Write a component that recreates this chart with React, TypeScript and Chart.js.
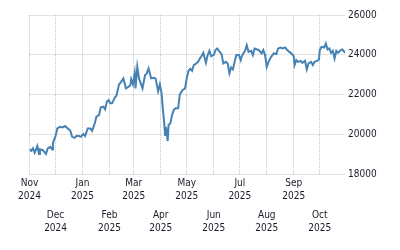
import React, { useEffect, useRef } from "react";
import { Chart, registerables } from "chart.js";

Chart.register(...registerables);

// Day offsets from 1 Nov 2024
const days = [
  0, 2, 4, 6, 8, 9, 11, 12, 15, 17, 19, 21, 24, 26, 27, 30, 32, 35, 38, 41, 44, 47, 49, 52, 54, 57, 59, 62, 64, 67, 70, 72, 75, 77, 80, 82, 85, 87, 89, 91, 93,
  95, 98, 100, 103, 105, 108, 111, 114, 116, 117, 119, 121, 122, 124, 126, 128, 130, 133, 135, 137, 140, 143, 145, 147, 148, 150, 152, 153, 155, 156, 157, 159, 160, 162, 164, 166, 168, 171, 173, 176, 179, 181, 183, 185,
  187, 189, 192, 194, 196, 198, 200, 203, 205, 207, 209, 212, 214, 216, 218, 221, 223, 226, 228, 230, 232, 234, 236, 238, 241, 243, 244, 246, 248, 250, 252, 255, 257, 259, 262, 264, 267, 269, 271, 273, 275,
  278, 281, 284, 286, 289, 291, 294, 296, 299, 302, 304, 305, 307, 309, 312, 314, 317, 319, 321, 324, 326, 328, 331, 333, 334, 336, 339, 341, 343, 345, 347, 349, 351, 353, 355, 358, 360, 363,
];

const values = [
  19260, 19190, 19310, 19090, 19310, 19430, 19030, 19260, 19230, 19140, 19030, 19310, 19390, 19260, 19590, 19930, 20310, 20390, 20360, 20430, 20310, 20190, 19890, 19840, 19930, 19930, 19890, 20030, 19930, 20310, 20310, 20190, 20560, 20900, 20980, 21370, 21400, 21270, 21650, 21730, 21570,
  21570, 21850, 21950, 22520, 22620, 22820, 22320, 22400, 22480, 22780, 22520, 23070, 22320, 23400, 22820, 22570, 22320, 22990, 23070, 23320, 22820, 22850, 22820, 22400, 22180, 22520, 22070, 21480, 20560, 19980, 20390, 19680, 20480, 20560, 20980, 21230, 21320, 21320, 22020, 22230, 22320, 22850, 23200, 23300,
  23200, 23490, 23570, 23650, 23820, 23940, 24100, 23600, 23990, 24200, 23940, 23990, 24240, 24320, 24200, 24040, 23570, 23650, 23570, 23070, 23370, 23270, 23650, 23990, 23990, 23740, 23900, 24070, 24200, 24490, 24150, 24200, 23990, 24320, 24270, 24240, 24070, 24240, 23990, 23400, 23650,
  23900, 24070, 24040, 24320, 24370, 24320, 24370, 24270, 24150, 24040, 23940, 23490, 23740, 23650, 23700, 23600, 23700, 23270, 23570, 23650, 23490, 23650, 23700, 23770, 24240, 24400, 24370, 24570, 24270, 24320, 24100, 24200, 23820, 24200, 24100, 24240, 24270, 24100,
];

// Month starts (day offsets) and their labels
const monthDays = [0, 30, 61, 92, 120, 151, 181, 212, 242, 273, 304, 334];
const monthNames = ["Nov", "Dec", "Jan", "Feb", "Mar", "Apr", "May", "Jun", "Jul", "Aug", "Sep", "Oct"];
const monthYears = ["2024", "2024", "2025", "2025", "2025", "2025", "2025", "2025", "2025", "2025", "2025", "2025"];

const yTickValues = [18000, 20000, 22000, 24000, 26000];

const FONT = { family: '"DejaVu Sans Condensed", "Liberation Sans", sans-serif', size: 10, lineHeight: 1.3 };
const TEXT = "#1a1a2a";
const GRID = "#c4c4c4";

export default function App() {
  const ref = useRef<HTMLCanvasElement | null>(null);

  useEffect(() => {
    document.body.style.margin = "0";
    const canvas = ref.current;
    if (!canvas) return;
    const pts = days.map((d, i) => ({ x: d, y: values[i] }));
    const setMonthTicks = (scale: any) => {
      scale.ticks = monthDays.map((v) => ({ value: v }));
    };
    const chart = new Chart(canvas, {
      type: "line",
      data: {
        datasets: [
          {
            data: pts,
            borderColor: "#4682b4",
            borderWidth: 2,
            pointRadius: 0,
            tension: 0,
            fill: false,
          },
        ],
      },
      options: {
        animation: false,
        responsive: false,
        devicePixelRatio: 1,
        layout: { padding: { top: 15, left: 29.5, right: 0, bottom: 0 } },
        plugins: { legend: { display: false }, tooltip: { enabled: false } },
        scales: {
          x: {
            type: "linear",
            position: "bottom",
            weight: 1,
            min: 0,
            max: days[days.length - 1],
            afterBuildTicks: setMonthTicks,
            afterFit: (s: any) => {
              s.height = 31;
            },
            border: { display: false, dash: [1, 1] },
            grid: { color: GRID, drawTicks: false, lineWidth: 1 },
            ticks: {
              autoSkip: false,
              maxRotation: 0,
              padding: 2,
              color: TEXT,
              font: FONT,
              callback: (v: any) => {
                const i = monthDays.indexOf(Number(v));
                if (i < 0 || i % 2 === 1) return "";
                return [monthNames[i], monthYears[i]];
              },
            },
          },
          x2: {
            type: "linear",
            position: "bottom",
            weight: 2,
            min: 0,
            max: days[days.length - 1],
            afterBuildTicks: setMonthTicks,
            afterFit: (s: any) => {
              s.height = 44.5;
            },
            border: { display: false },
            grid: { display: false },
            ticks: {
              autoSkip: false,
              maxRotation: 0,
              padding: -5,
              color: TEXT,
              font: FONT,
              callback: (v: any) => {
                const i = monthDays.indexOf(Number(v));
                if (i < 0 || i % 2 === 0) return "";
                return [monthNames[i], monthYears[i]];
              },
            },
          },
          y: {
            position: "right",
            min: 18000,
            max: 26000,
            afterBuildTicks: (scale: any) => {
              scale.ticks = yTickValues.map((v) => ({ value: v }));
            },
            afterFit: (s: any) => {
              s.width = 55;
            },
            border: { display: false, dash: [1, 1] },
            grid: { color: GRID, drawTicks: false, lineWidth: 1 },
            ticks: {
              padding: 3,
              color: TEXT,
              font: FONT,
              callback: (v: any) => String(v),
            },
          },
        },
      } as any,
    });
    return () => chart.destroy();
  }, []);

  return <canvas ref={ref} width={400} height={250} style={{ display: "block" }} />;
}
